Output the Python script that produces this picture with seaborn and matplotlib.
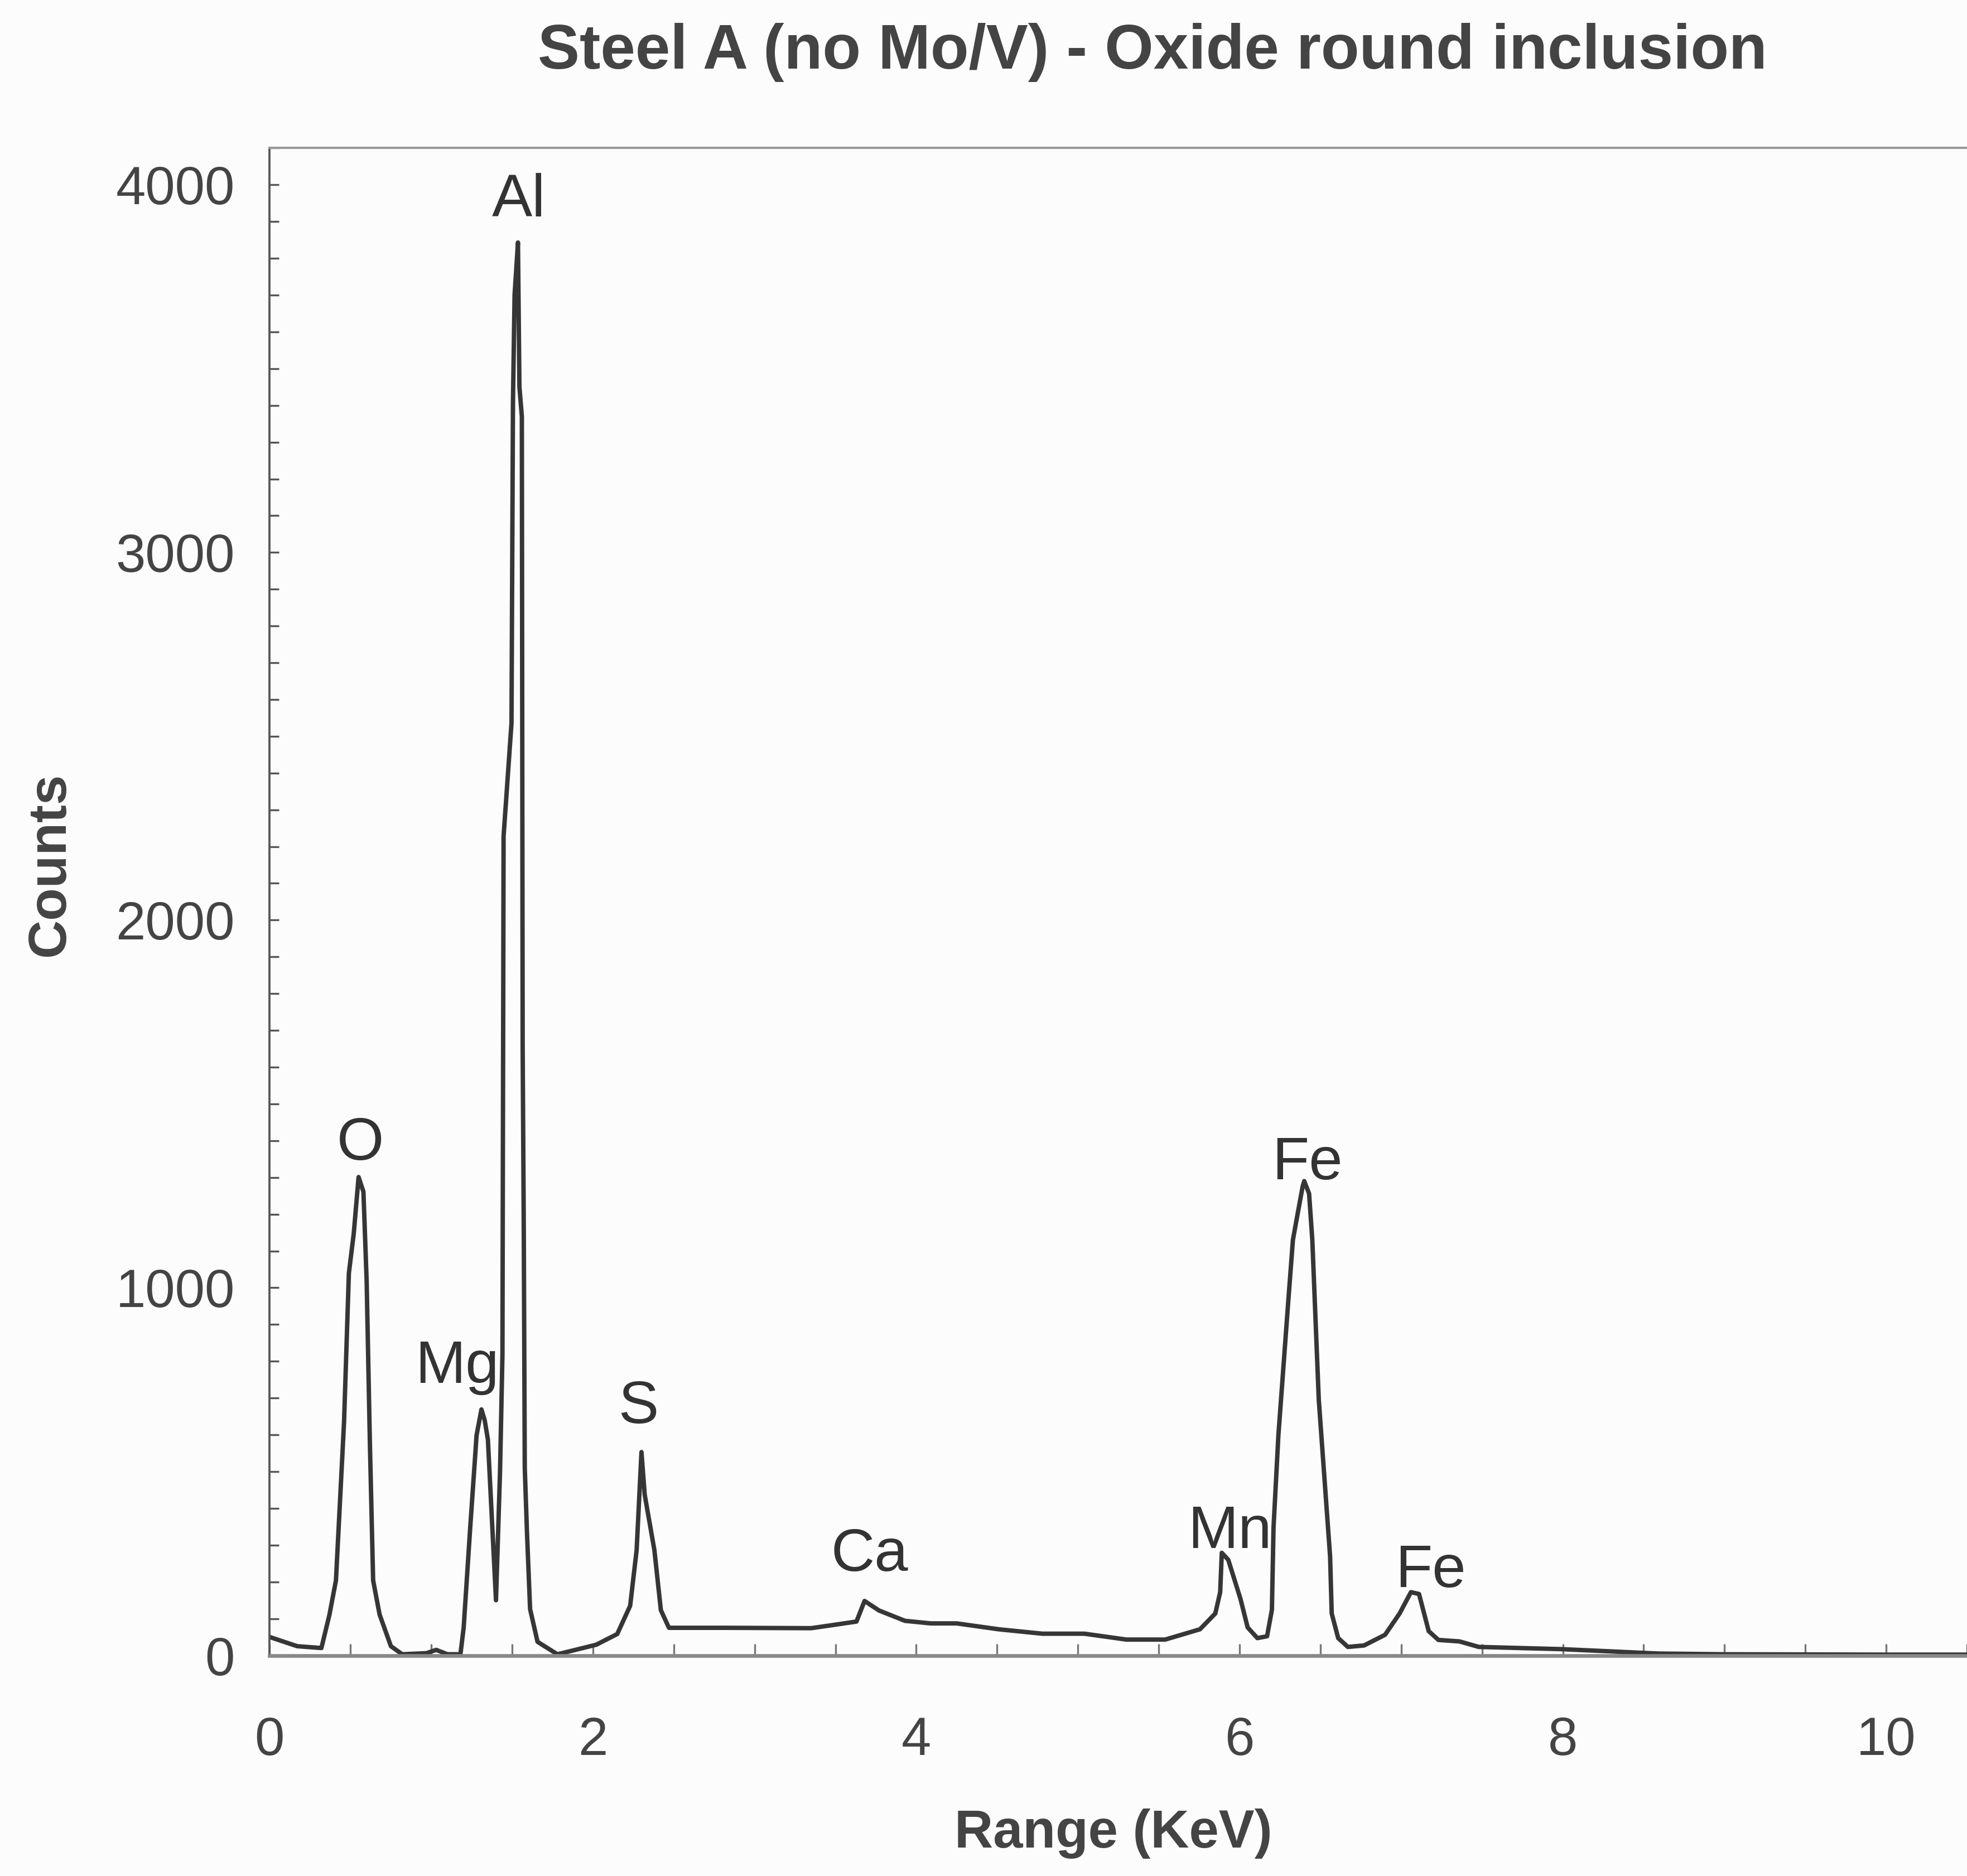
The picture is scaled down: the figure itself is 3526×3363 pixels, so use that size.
import matplotlib.pyplot as plt
import pandas as pd
import seaborn as sns
from matplotlib.ticker import MultipleLocator

# EDS spectrum (energy in keV, counts)
energy_kev = [
    0.00, 0.17, 0.32, 0.37, 0.41, 0.46, 0.49, 0.52, 0.55, 0.58, 0.60, 0.62,
    0.64, 0.68, 0.75, 0.82, 0.97, 1.03, 1.10, 1.18, 1.20, 1.24, 1.28, 1.31,
    1.33, 1.35, 1.40, 1.425, 1.44, 1.447, 1.496, 1.505, 1.515, 1.536, 1.545,
    1.56, 1.565, 1.572, 1.578, 1.592, 1.611, 1.657, 1.70, 1.78, 1.91, 2.02,
    2.15, 2.23, 2.27, 2.30, 2.32, 2.38, 2.42, 2.47, 2.81, 3.35, 3.46, 3.63,
    3.68, 3.77, 3.93, 4.09, 4.25, 4.51, 4.78, 5.04, 5.30, 5.54, 5.755, 5.85,
    5.88, 5.89, 5.93, 6.006, 6.05, 6.11, 6.17, 6.20, 6.21, 6.24, 6.30, 6.33,
    6.35, 6.39, 6.40, 6.43, 6.45, 6.49, 6.56, 6.57, 6.61, 6.67, 6.77, 6.90,
    6.99, 7.06, 7.11, 7.17, 7.23, 7.36, 7.48, 7.99, 8.59, 9.00, 10.00, 10.50,
]
counts = [
    50, 25, 20, 111, 204, 634, 1040, 1147, 1301, 1261, 1017, 576,
    204, 111, 25, 3, 6, 15, 3, 3, 75, 344, 599, 669,
    640, 587, 150, 500, 818, 2228, 2536, 3407, 3700, 3843, 3450,
    3370, 1660, 1150, 511, 331, 126, 37, 25, 3, 17, 29,
    58, 135, 286, 553, 437, 286, 123, 75, 75, 74, 81, 92,
    148, 122, 94, 87, 87, 71, 59, 59, 43, 43, 71, 114,
    172, 279, 260, 153, 76, 47, 52, 124, 347, 598, 956, 1130,
    1179, 1275, 1290, 1256, 1130, 695, 269, 114, 47, 23, 27, 56,
    114, 172, 167, 66, 42, 38, 23, 17, 5, 3, 2, 2,
]

peak_names = ["O", "Al", "Mg", "S", "Ca", "Mn", "Fe", "Fe"]
peak_x = [0.56, 1.54, 1.16, 2.28, 3.71, 5.94, 6.42, 7.18]
peak_y = [1391, 3956, 784, 675, 273, 334, 1337, 228]

x_ticks = [0, 2, 4, 6, 8, 10]
y_ticks = [0, 1000, 2000, 3000, 4000]

spectrum = pd.DataFrame({"energy": energy_kev, "counts": counts})

sns.set_style("white")
plt.rcParams["font.family"] = ["Liberation Sans", "DejaVu Sans"]

fig = plt.figure(figsize=(3526 / 300, 3363 / 300), dpi=300, facecolor="#fcfcfc")
ax = fig.add_axes([0.1371, 0.1176, 0.8629, 0.8035])
ax.set_facecolor("#fcfcfc")

sns.lineplot(data=spectrum, x="energy", y="counts", ax=ax,
             color="#363636", linewidth=1.9, estimator=None)

ax.set_xlim(0, 10.5)
ax.set_ylim(0, 4100)
ax.set_xticks(x_ticks)
ax.set_yticks(y_ticks)
ax.xaxis.set_minor_locator(MultipleLocator(0.5))
ax.yaxis.set_minor_locator(MultipleLocator(100))
ax.tick_params(axis="x", which="both", direction="in", bottom=True, length=5,
               width=0.8, color="#777777", labelsize=23, labelcolor="#444444", pad=26)
ax.tick_params(axis="y", which="both", direction="in", left=True, length=4,
               width=0.8, color="#555555", labelsize=23, labelcolor="#444444", pad=15)
ax.set_xlabel("")
ax.set_ylabel("")

ax.spines["right"].set_visible(False)
ax.spines["left"].set_color("#555555")
ax.spines["left"].set_linewidth(0.9)
ax.spines["top"].set_color("#999999")
ax.spines["top"].set_linewidth(1.0)
ax.spines["bottom"].set_color("#888888")
ax.spines["bottom"].set_linewidth(1.6)

for name, px, py in zip(peak_names, peak_x, peak_y):
    ax.text(px, py, name, ha="center", va="center", fontsize=26, color="#333333")

fig.text(0.586, 0.972, "Steel A (no Mo/V) - Oxide round inclusion",
         ha="center", va="center", fontsize=27, fontweight="bold", color="#444444")
fig.text(0.566, 0.0227, "Range (KeV)", ha="center", va="center",
         fontsize=23, fontweight="bold", color="#444444")
fig.text(0.0255, 0.539, "Counts", ha="center", va="center", rotation=90,
         fontsize=23, fontweight="bold", color="#444444")

fig.savefig("out.png", dpi=300, facecolor=fig.get_facecolor())
